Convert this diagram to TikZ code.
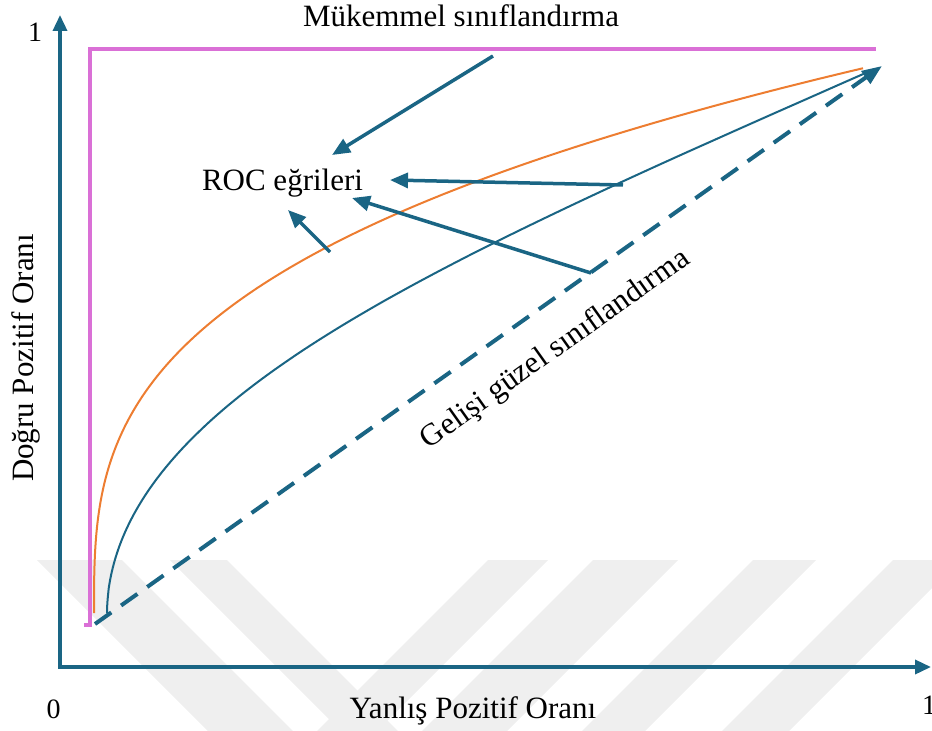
\documentclass[tikz,border=0pt]{standalone}
\usepackage{fontspec}
\setmainfont{Liberation Serif}
\usetikzlibrary{arrows.meta}
\definecolor{axisblue}{RGB}{26,101,132}
\definecolor{rocorange}{RGB}{237,125,49}
\definecolor{perfectpink}{RGB}{218,112,214}
\definecolor{markgray}{RGB}{239,239,239}

\begin{document}
\begin{tikzpicture}[x=1bp,y=-1bp,
  axisline/.style={draw=axisblue,line width=3.5bp,line join=miter,
    {Triangle[length=16bp,width=14bp]}-{Triangle[length=16bp,width=14bp]}},
  pointer/.style={draw=axisblue,line width=3.5bp,-{Triangle[length=18bp,width=15bp]}},
  curveline/.style={line width=2bp,line join=round},
  lbl/.style={font=\fontsize{31bp}{37bp}\selectfont,inner sep=0pt,anchor=base},
  ticklbl/.style={font=\fontsize{28bp}{34bp}\selectfont,inner sep=0pt,anchor=base},
]
\useasboundingbox (0,0) rectangle (932,731);

% faint diagonal stripes in the lower band
\foreach \a/\b in {37/122,170/227}
  \fill[markgray] (\a,560) -- (\b,560) -- (\b+171,731) -- (\a+171,731) -- cycle;
\foreach \a/\b in {488/548,593/678,753/816,893/960}
  \fill[markgray] (\a,560) -- (\b,560) -- (\b-171,731) -- (\a-171,731) -- cycle;

% axes
\coordinate (ytop) at (60,15);
\coordinate (origin) at (60,667);
\coordinate (xend) at (931,667);
\draw[axisline] (ytop) -- (origin) -- (xend);

% perfect classifier
\coordinate (pfoot) at (84,625);
\coordinate (pcorner0) at (90,625);
\coordinate (pcorner1) at (90,49);
\coordinate (pend) at (876,49);
\draw[perfectpink,line width=3.5bp] (pfoot) -- (pcorner0) -- (pcorner1) -- (pend);

% ROC curves: u = t^3 along the rate axis
\draw[rocorange,curveline] plot[domain=0:1,samples=160,variable=\t]
  ({94+770*\t*\t*\t},{613-545*\t});
\draw[axisblue,curveline] plot[smooth,domain=0.02:1,samples=90,variable=\t]
  ({107+770*\t*\t*\t},{615-547*exp((0.5+0.12*\t*\t*\t)*3*ln(\t))});

% random classifier
\coordinate (dstart) at (95,624);
\coordinate (dend) at (882,66);
\draw[axisblue,line width=4bp,dash pattern=on 20bp off 12bp,
  -{Triangle[length=20bp,width=15bp]}] (dstart) -- (dend);

% labels
\node[lbl] (title) at (461,27) {Mükemmel sınıflandırma};
\node[lbl] (roc) at (282.5,190) {ROC eğrileri};
\node[lbl] (xlabel) at (473,718) {Yanlış Pozitif Oranı};
\node[lbl,rotate=90] (ylabel) at (33,358) {Doğru Pozitif Oranı};
\node[lbl,rotate=35.4] (diag) at (560,356) {Gelişi güzel sınıflandırma};
\node[ticklbl] (zero) at (53.5,718) {0};
\node[ticklbl] (yone) at (35,42) {1};
\node[ticklbl,anchor=base west] (xone) at (922,714) {1};

% pointers to the curve label
\coordinate (tailA) at (493,56);   \coordinate (tipA) at (332,155);
\coordinate (tailB) at (623,185);  \coordinate (tipB) at (390,180);
\coordinate (tailC) at (591,273);  \coordinate (tipC) at (352,198);
\coordinate (tailD) at (330,252);  \coordinate (tipD) at (288,210);
\draw[pointer] (tailA) -- (tipA);
\draw[pointer] (tailB) -- (tipB);
\draw[pointer] (tailC) -- (tipC);
\draw[pointer] (tailD) -- (tipD);
\end{tikzpicture}
\end{document}
